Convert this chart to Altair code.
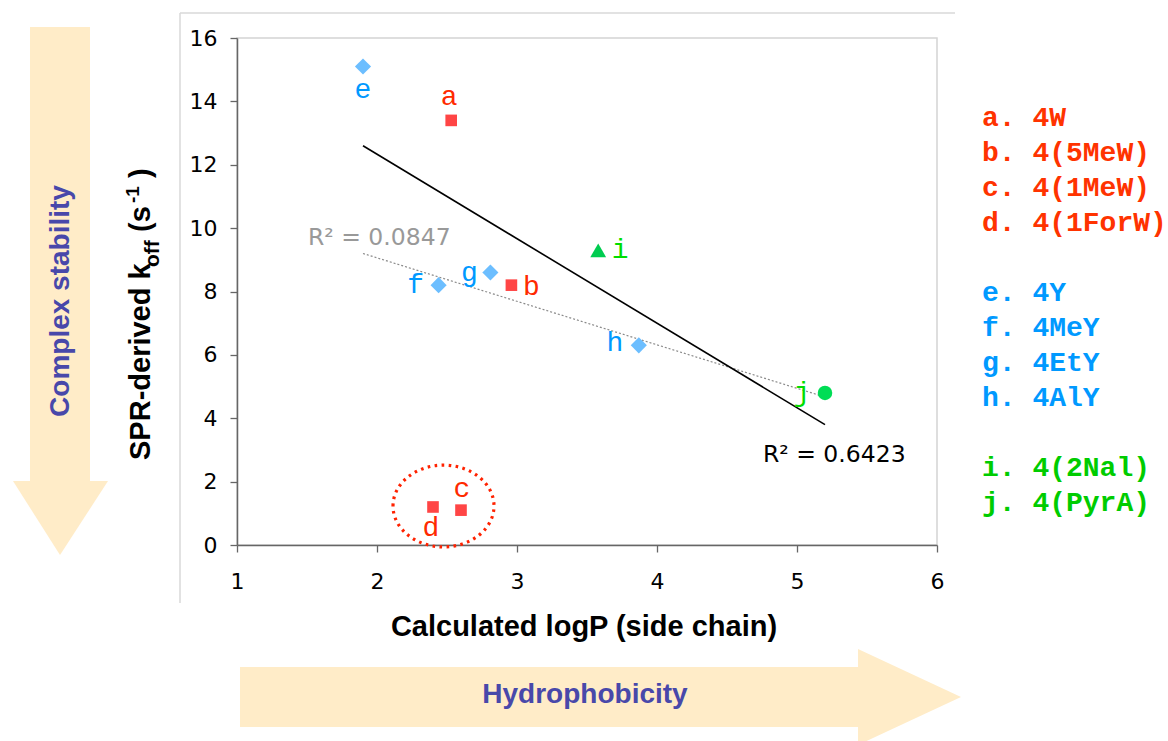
import altair as alt
import pandas as pd

# ---------------- data ----------------
ids = ["a", "b", "c", "d", "e", "f", "g", "h", "i", "j"]
names = ["4W", "4(5MeW)", "4(1MeW)", "4(1ForW)", "4Y", "4MeY", "4EtY", "4AlY", "4(2Nal)", "4(PyrA)"]
series = ["W", "W", "W", "W", "Y", "Y", "Y", "Y", "Nal", "PyrA"]
logp = [2.53, 2.96, 2.60, 2.40, 1.90, 2.44, 2.81, 3.87, 3.58, 5.20]
koff = [13.4, 8.2, 1.1, 1.2, 15.1, 8.2, 8.6, 6.3, 9.3, 4.8]

# trend lines (end points)
fit_all_x = [1.90, 5.20]
fit_all_y = [12.6, 3.8]
fit_all_r2 = "R² = 0.6423"
fit_sub_x = [1.90, 5.20]
fit_sub_y = [9.2, 4.67]
fit_sub_r2 = "R² = 0.0847"

x_ticks = [1, 2, 3, 4, 5, 6]
y_ticks = [0, 2, 4, 6, 8, 10, 12, 14, 16]

# ---------------- layout / style ----------------
X0, Y0 = 237, 38          # plot origin on the page
W, H = 700, 507           # plot area
PAGE_W, PAGE_H = 1168, 741


def px(X):
    return X - X0


def py(Y):
    return Y - Y0


RED_M, BLUE_M, GREEN_M, GREEN_C = "#FF4545", "#6CBEFF", "#00CC50", "#00DD55"
RED_T, BLUE_T, GREEN_T = "#FF2A00", "#0099FF", "#00DD00"
RED_L, BLUE_L, GREEN_L = "#FF3300", "#0099FF", "#00CC00"
ARROW = "#FFECC8"
ARROW_TXT = "#4848AA"
SANS = "Liberation Sans"
MONO = "Liberation Mono"
TICKF = "DejaVu Sans"

pts = pd.DataFrame({"id": ids, "name": names, "series": series, "logp": logp, "koff": koff})
one = alt.Data(values=[{}])

xs = alt.Scale(domain=[1, 6], nice=False, zero=False)
ys = alt.Scale(domain=[0, 16], nice=False, zero=False)

X = alt.X("logp:Q", scale=xs, axis=alt.Axis(values=x_ticks, format="d", title=None, labelFlush=False))
Y = alt.Y("koff:Q", scale=ys, axis=alt.Axis(values=y_ticks, format="d", title=None, labelFlush=False))

layers = []

# ---- decorative arrows ----
layers.append(alt.Chart(one).mark_rect(color=ARROW).encode(
    x=alt.value(px(30)), x2=alt.value(px(90)), y=alt.value(py(27)), y2=alt.value(py(482))))
down_head = pd.DataFrame({"hx": [px(13), px(60), px(108)],
                          "hy": [py(481)] * 3,
                          "hy2": [py(481), py(555), py(481)]})
layers.append(alt.Chart(down_head).mark_area(color=ARROW, orient="vertical").encode(
    x=alt.X("hx:Q", scale=None), y=alt.Y("hy:Q", scale=None), y2="hy2:Q"))
layers.append(alt.Chart(one).mark_rect(color=ARROW).encode(
    x=alt.value(px(240)), x2=alt.value(px(859)), y=alt.value(py(667)), y2=alt.value(py(727))))
right_head = pd.DataFrame({"hy": [py(649), py(697), py(745)],
                           "hx": [px(858)] * 3,
                           "hx2": [px(858), px(961), px(858)]})
layers.append(alt.Chart(right_head).mark_area(color=ARROW, orient="horizontal").encode(
    y=alt.Y("hy:Q", scale=None), x=alt.X("hx:Q", scale=None), x2="hx2:Q"))

layers.append(alt.Chart(one).mark_text(angle=270, font=SANS, fontSize=28, fontWeight="bold",
                                        color=ARROW_TXT, align="center", baseline="middle").encode(
    x=alt.value(px(61)), y=alt.value(py(301)), text=alt.value("Complex stability")))
layers.append(alt.Chart(one).mark_text(font=SANS, fontSize=28, fontWeight="bold",
                                        color=ARROW_TXT, align="center", baseline="middle").encode(
    x=alt.value(px(585)), y=alt.value(py(695)), text=alt.value("Hydrophobicity")))

# ---- outer chart-area frame ----
layers.append(alt.Chart(one).mark_rule(color="#d9d9d9", strokeWidth=1.5).encode(
    x=alt.value(px(180)), y=alt.value(py(13)), y2=alt.value(py(603))))
layers.append(alt.Chart(one).mark_rule(color="#d9d9d9", strokeWidth=1.5).encode(
    x=alt.value(px(180)), x2=alt.value(px(955)), y=alt.value(py(13))))

# ---- axis titles ----
layers.append(alt.Chart(one).mark_text(font=SANS, fontSize=29, fontWeight="bold",
                                        color="black", align="center", baseline="middle").encode(
    x=alt.value(px(584)), y=alt.value(py(627)), text=alt.value("Calculated logP (side chain)")))

ytitle_parts = [
    ("SPR-derived k", 29, 150, 460),
    ("off", 21, 159, 267),
    ("(s", 29, 150, 232),
    ("-1", 19, 139, 203),
    (")", 29, 150, 178),
]
for txt, fs, bx, by in ytitle_parts:
    layers.append(alt.Chart(one).mark_text(angle=270, font=SANS, fontSize=fs, fontWeight="bold",
                                            color="black", align="left", baseline="alphabetic").encode(
        x=alt.value(px(bx)), y=alt.value(py(by)), text=alt.value(txt)))

# ---- dotted ellipse around c, d ----
ell = pd.DataFrame({"logp": [2.475], "koff": [1.23]})
ellipse_path = ("M -1 0 C -1 -0.447 -0.552 -0.81 0 -0.81 C 0.552 -0.81 1 -0.447 1 0 "
                "C 1 0.447 0.552 0.81 0 0.81 C -0.552 0.81 -1 0.447 -1 0 Z")
layers.append(alt.Chart(ell).mark_point(shape=ellipse_path, size=101 * 101, filled=False,
                                         stroke="#FF2200", strokeWidth=3.2, strokeDash=[2.6, 4.4],
                                         opacity=1).encode(x=X, y=Y))

# ---- trend lines ----
tr_all = pd.DataFrame({"logp": fit_all_x, "koff": fit_all_y})
tr_sub = pd.DataFrame({"logp": fit_sub_x, "koff": fit_sub_y})
layers.append(alt.Chart(tr_sub).mark_line(color="#8a8a8a", strokeWidth=1.2, strokeDash=[2, 2]).encode(x=X, y=Y))
layers.append(alt.Chart(tr_all).mark_line(color="black", strokeWidth=1.6).encode(x=X, y=Y))

r2 = pd.DataFrame({"logp": [1.507, 4.757], "koff": [9.69, 2.84], "t": [fit_sub_r2, fit_all_r2],
                   "c": ["sub", "all"]})
layers.append(alt.Chart(r2).transform_filter("datum.c == 'sub'").mark_text(
    font=TICKF, fontSize=23.5, color="#999999", align="left", baseline="middle").encode(x=X, y=Y, text="t:N"))
layers.append(alt.Chart(r2).transform_filter("datum.c == 'all'").mark_text(
    font=TICKF, fontSize=23.5, color="black", align="left", baseline="middle").encode(x=X, y=Y, text="t:N"))

# ---- markers ----
marker_style = {"W": ("square", RED_M, 135), "Y": ("diamond", BLUE_M, 260),
                "Nal": ("triangle-up", GREEN_M, 250), "PyrA": ("circle", GREEN_C, 210)}
for s, (shp, col, sz) in marker_style.items():
    layers.append(alt.Chart(pts).transform_filter(alt.datum.series == s).mark_point(
        filled=True, opacity=1, shape=shp, color=col, size=sz).encode(x=X, y=Y))

# ---- point labels ----
label_offset = {"a": (-2, -23), "b": (20, 2), "c": (1, -21), "d": (-2, 21), "e": (0, 23),
                "f": (-23, 0), "g": (-21, 1), "h": (-24, -2), "i": (22, 0), "j": (-23, 0)}
label_color = {"W": RED_T, "Y": BLUE_T, "Nal": GREEN_T, "PyrA": GREEN_T}
for k, s in zip(ids, series):
    dx, dy = label_offset[k]
    layers.append(alt.Chart(pts).transform_filter(alt.datum.id == k).mark_text(
        font=MONO, fontSize=28, color=label_color[s], dx=dx, dy=dy,
        align="center", baseline="middle").encode(x=X, y=Y, text="id:N"))

# ---- legend (text list on the right) ----
legend_color = {"W": RED_L, "Y": BLUE_L, "Nal": GREEN_L, "PyrA": GREEN_L}
legend_row = [0, 1, 2, 3, 5, 6, 7, 8, 10, 11]
for k, n, s, r in zip(ids, names, series, legend_row):
    layers.append(alt.Chart(one).mark_text(font=MONO, fontSize=28, fontWeight="bold",
                                            color=legend_color[s], align="left", baseline="middle").encode(
        x=alt.value(px(982)), y=alt.value(py(118 + 35 * r)), text=alt.value(f"{k}. {n}")))

chart = alt.layer(*layers).properties(
    width=W, height=H,
    padding={"left": X0, "top": Y0, "right": PAGE_W - X0 - W, "bottom": PAGE_H - Y0 - H},
    autosize=alt.AutoSizeParams(type="none"),
    background="white",
).configure_view(stroke="#d4d4d4", strokeWidth=1.5).configure_axis(
    grid=False, domainColor="#666666", tickColor="#666666", tickSize=7, domainWidth=1.5, tickWidth=1.3,
    labelFont=TICKF, labelFontSize=22, labelColor="black",
).configure_axisX(labelPadding=19).configure_axisY(labelPadding=13)

chart.save("out.html", embed_options={"renderer": "svg", "actions": False})
